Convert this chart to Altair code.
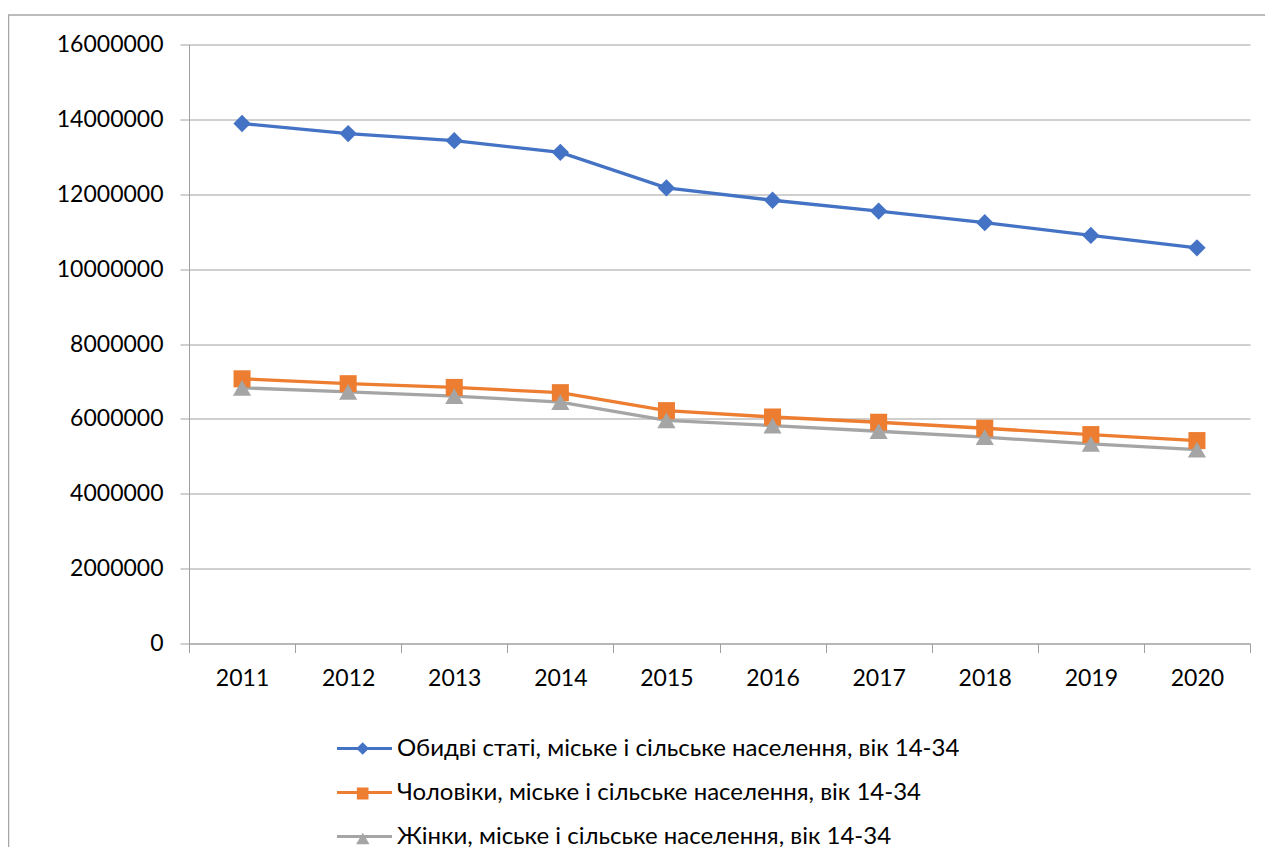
import altair as alt
import pandas as pd

years = ["2011", "2012", "2013", "2014", "2015", "2016", "2017", "2018", "2019", "2020"]
both = [13890000, 13620000, 13430000, 13120000, 12170000, 11840000, 11550000, 11240000, 10900000, 10570000]
men = [7070000, 6940000, 6840000, 6700000, 6220000, 6050000, 5910000, 5750000, 5580000, 5420000]
women = [6830000, 6720000, 6610000, 6450000, 5960000, 5820000, 5670000, 5510000, 5330000, 5180000]
series_names = [
    "Обидві статі, міське і сільське населення, вік 14-34",
    "Чоловіки, міське і сільське населення, вік 14-34",
    "Жінки, міське і сільське населення, вік 14-34",
]
colors = ["#4472C4", "#ED7D31", "#A5A5A5"]
shapes = ["diamond", "square", "triangle-up"]
marker_sizes = [300, 290, 330]
legend_marker_sizes = [160, 140, 180]
y_ticks = [0, 2000000, 4000000, 6000000, 8000000, 10000000, 12000000, 14000000, 16000000]

rows = []
for name, vals in zip(series_names, [both, men, women]):
    for yr, v in zip(years, vals):
        rows.append({"series": name, "year": yr, "value": v})
df = pd.DataFrame(rows)

GRID = "#a0a0a0"
FONT = "Lato"
LEG_Y0 = 692.5
ROW_STEP = 45

line_legend = alt.Legend(
    title=None,
    orient="none",
    legendX=146,
    legendY=LEG_Y0,
    direction="vertical",
    labelFont=FONT,
    labelFontSize=24,
    labelColor="#000000",
    labelLimit=1000,
    labelOffset=3,
    rowPadding=19,
    clipHeight=23,
    padding=0,
    symbolType="M-1,0L1,0",
    symbolSize=3025,
    symbolStrokeWidth=3.2,
    symbolFillColor="transparent",
)

x_enc = alt.X(
    "year:N",
    sort=years,
    scale=alt.Scale(paddingInner=0, paddingOuter=0),
    axis=alt.Axis(
        title=None,
        labelAngle=0,
        tickBand="extent",
        grid=False,
        tickSize=9,
        labelPadding=15,
    ),
)
y_enc = alt.Y(
    "value:Q",
    scale=alt.Scale(domain=[0, 16000000], nice=False),
    axis=alt.Axis(
        title=None,
        values=y_ticks,
        format="d",
        grid=True,
        tickSize=9,
        labelPadding=17,
    ),
)

lines = alt.Chart(df).mark_line(strokeWidth=3.3).encode(
    x=x_enc,
    y=y_enc,
    stroke=alt.Stroke(
        "series:N", sort=series_names, scale=alt.Scale(range=colors), legend=line_legend
    ),
)

point_layers = []
for i, (name, col, shp, sz, lsz) in enumerate(
    zip(series_names, colors, shapes, marker_sizes, legend_marker_sizes)
):
    leg = alt.Legend(
        title=None,
        orient="none",
        legendX=173.5 - (lsz ** 0.5) / 2,
        legendY=LEG_Y0 + i * ROW_STEP,
        clipHeight=23,
        padding=0,
        labelExpr="''",
        symbolSize=lsz,
        symbolFillColor=col,
        symbolStrokeColor=col,
        symbolStrokeWidth=0,
        symbolOpacity=1,
        zindex=2,
    )
    layer = (
        alt.Chart(df)
        .transform_filter(alt.datum.series == name)
        .mark_point(filled=True, opacity=1, color=col, size=sz)
        .encode(
            x=x_enc,
            y=y_enc,
            shape=alt.Shape("series:N", scale=alt.Scale(domain=[name], range=[shp]), legend=leg),
        )
    )
    point_layers.append(layer)

frame = alt.Chart(pd.DataFrame({"f": [0]})).mark_rect(
    filled=False, stroke="#a6a6a6", strokeWidth=1.5
).encode(
    x=alt.value(-180.5), x2=alt.value(1100), y=alt.value(-29.5), y2=alt.value(900)
)

chart = alt.layer(frame, lines, *point_layers).resolve_scale(
    shape="independent"
).properties(
    width=1061,
    height=599,
    padding={"left": 181, "top": 36.5, "right": 15, "bottom": 203.5},
    autosize=alt.AutoSizeParams(type="none"),
).configure_axis(
    labelFont=FONT,
    labelFontSize=23,
    labelColor="#000000",
    domainColor=GRID,
    tickColor=GRID,
    gridColor=GRID,
    domainWidth=1,
    tickWidth=1,
    gridWidth=1,
).configure_view(stroke=None)

chart.save("out.html", embed_options={"renderer": "svg", "actions": False})
